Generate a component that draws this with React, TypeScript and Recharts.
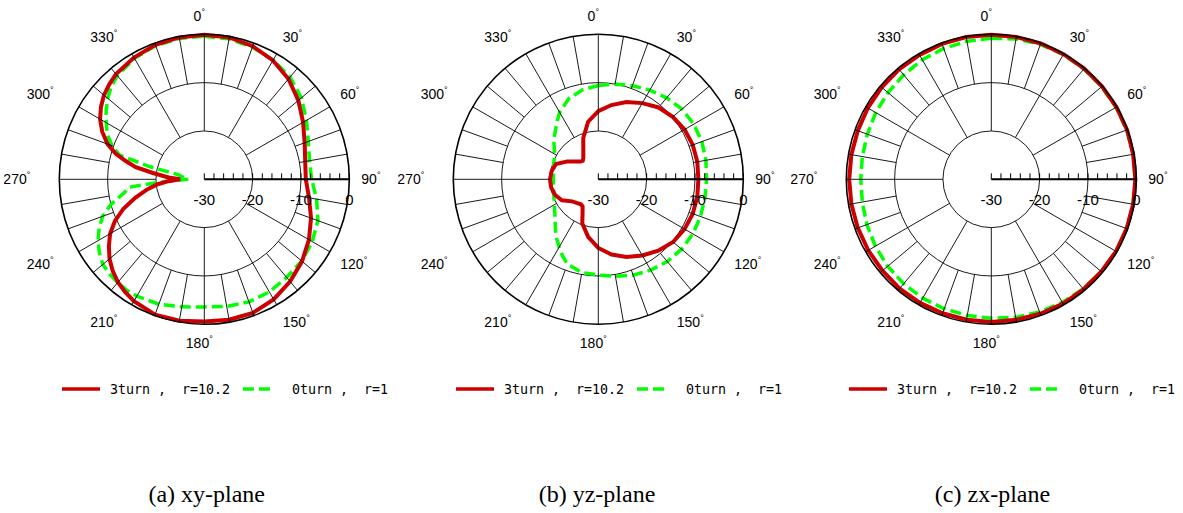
import React from 'react';
import { RadarChart, Radar, PolarGrid, PolarAngleAxis, PolarRadiusAxis, Legend } from 'recharts';

// ---------- axis definitions ----------
const R_MIN = -30;
const R_MAX = 0;
const RADIUS_TICKS = [-30, -28, -26, -24, -22, -20, -18, -16, -14, -12, -10, -8, -6, -4, -2, 0];
const RADIUS_LABELS = [-30, -20, -10, 0];
const GRID_RINGS = [-20, -10];
const ANGLE_TICKS = [0, 10, 20, 30, 40, 50, 60, 70, 80, 90, 100, 110, 120, 130, 140, 150, 160, 170, 180, 190, 200, 210, 220, 230, 240, 250, 260, 270, 280, 290, 300, 310, 320, 330, 340, 350];
const ANGLE_LABEL_STEP = 30;

// ---------- series ----------
const SERIES_3TURN = '3turn ,  r=10.2';
const SERIES_0TURN = '0turn ,  r=1';
const CAPTIONS = ['(a) xy-plane', '(b) yz-plane', '(c) zx-plane'];

// (a) xy-plane
const A_ANGLES = [0, 10, 20, 30, 40, 50, 60, 70, 80, 90, 100, 110, 120, 130, 140, 150, 160, 170, 180, 190, 200,
  210, 215, 220, 225, 230, 235, 240, 245, 250, 255, 260, 264, 267, 270, 273, 277, 280, 283, 286, 290, 295, 300, 305, 310, 315, 320,
  330, 340, 350];
const A_3TURN = [-0.1, -0.2, -0.7, -1.6, -2.9, -4.6, -6.4, -7.9, -8.8, -9.0, -8.0, -6.5, -5.0, -3.6, -2.4, -1.3, -0.6, -0.5, -0.6, -0.3, -0.2,
  -0.9, -1.5, -2.2, -3.2, -4.4, -5.9, -7.5, -9.6, -12.2, -15.2, -18.0, -20.3, -22.6, -25.0, -22.6, -19.3, -15.6, -13.4, -11.0, -8.7, -6.7, -5.1, -3.9, -2.9, -2.2, -1.6,
  -0.9, -0.4, -0.2];
const A_0TURN = [-0.4, -0.5, -0.9, -1.5, -2.4, -3.8, -5.6, -7.1, -7.9, -7.8, -6.4, -5.0, -4.2, -3.7, -3.5, -3.1, -3.0, -3.3, -3.6, -3.2, -2.5,
  -2.1, -2.0, -2.1, -2.3, -2.6, -3.5, -4.6, -6.0, -7.6, -10.0, -13.0, -14.5, -21.8, -26.7, -26.0, -25.3, -24.5, -18.5, -11.7, -9.7, -7.8, -6.6, -5.2, -3.9, -2.8, -2.0,
  -1.1, -0.6, -0.4];

// (b) yz-plane
const B_ANGLES = [0, 10, 20, 30, 40, 50, 60, 70, 80, 90, 100, 110, 120, 130, 140, 150, 160, 170, 180, 190,
  200, 205, 210, 215, 220,
  230, 240, 250, 260, 270, 280, 290, 300,
  305, 310, 315, 320, 325, 330,
  340, 350];
const B_3TURN = [-15.9, -14.4, -13.0, -11.8, -10.6, -9.9, -9.4, -9.2, -9.2, -9.3, -9.2, -9.2, -9.4, -9.8, -10.7, -11.8, -12.9, -14.2, -15.8, -17.9,
  -20.3, -22.3, -23.5, -23.7, -23.5,
  -22.9, -21.3, -20.5, -20.1, -20.0, -20.2, -20.7, -22.6,
  -23.6, -24.3, -24.8, -25.0, -24.6, -23.8,
  -20.9, -17.9];
const B_0TURN = [-10.6, -10.0, -9.4, -8.7, -8.0, -7.4, -7.2, -7.2, -7.4, -7.6, -7.6, -7.5, -7.4, -7.5, -7.8, -8.3, -8.9, -9.6, -10.2, -10.4,
  -11.3, -12.5, -13.8, -15.0, -16.2,
  -18.3, -19.5, -20.2, -20.6, -20.7, -20.6, -20.2, -19.6,
  -18.9, -18.0, -17.2, -16.3, -15.2, -14.0,
  -12.2, -11.2];

// (c) zx-plane
const C_ANGLES = [0, 10, 20, 30, 40, 50, 60, 70, 80, 90, 100, 110, 120, 130, 140, 150, 160, 170, 180, 190, 200, 210, 220, 230, 240, 250, 260, 270, 280, 290, 300, 310, 320, 330, 340, 350];
const C_3TURN = [-0.1, -0.1, -0.1, -0.1, -0.1, -0.1, -0.1, -0.1, -0.2, -0.2, -0.2, -0.2, -0.2, -0.3, -0.3, -0.3, -0.4, -0.5, -0.5, -0.5, -0.5, -0.5, -0.5, -0.6, -0.6, -0.6, -0.6, -0.6, -0.6, -0.6, -0.5, -0.4, -0.3, -0.3, -0.2, -0.1];
const C_0TURN = [-0.8, -0.5, -0.3, -0.2, -0.2, -0.2, -0.2, -0.2, -0.2, -0.2, -0.2, -0.2, -0.2, -0.3, -0.4, -0.6, -0.8, -1.0, -1.25, -1.4, -1.5, -1.6, -1.8, -2.0, -2.3, -2.6, -2.9, -3.0, -2.9, -2.7, -2.4, -2.1, -1.8, -1.45, -1.2, -1.0];

// ---------- styling ----------
const RED = '#cc0000';
const GREEN = '#00ff00';
const GREEN_DASH = '11 5';
const SANS = '"Liberation Sans", Arial, sans-serif';
const MONO = '"DejaVu Sans Mono", monospace';
const SERIF = '"Liberation Serif", "Times New Roman", serif';

const PANEL_W = 394;
const PANEL_H = 420;
const PANEL_LEFT = [4, 398, 791];
const CX = 200.3;
const CY = 179.3;
const OUTER_R = 145;
const ANGLE_TICK_SIZE = 8;

const buildRows = (angles: number[], s3: number[], s0: number[]) =>
  angles.map((a, i) => ({ angle: a, t3: s3[i], t0: s0[i] }));

const PANELS = [
  buildRows(A_ANGLES, A_3TURN, A_0TURN),
  buildRows(B_ANGLES, B_3TURN, B_0TURN),
  buildRows(C_ANGLES, C_3TURN, C_0TURN),
];

const frac = (v: number) => (v - R_MIN) / (R_MAX - R_MIN);

const AngleTick = (props: any) => {
  const { x, y, payload } = props;
  const rad = (payload.coordinate * Math.PI) / 180;
  const ux = Math.cos(rad);
  const uy = -Math.sin(rad);
  const ccx = typeof props.cx === 'number' ? props.cx : x - ux * (OUTER_R + ANGLE_TICK_SIZE);
  const ccy = typeof props.cy === 'number' ? props.cy : y - uy * (OUTER_R + ANGLE_TICK_SIZE);
  const R = Math.hypot(x - ccx, y - ccy) - ANGLE_TICK_SIZE;
  const v = payload.value as number;
  const major = v % ANGLE_LABEL_STEP === 0;
  const rIn = R * frac(major ? GRID_RINGS[0] : GRID_RINGS[1]);
  const line = (
    <line
      x1={ccx + ux * rIn}
      y1={ccy + uy * rIn}
      x2={ccx + ux * R}
      y2={ccy + uy * R}
      stroke="#000"
      strokeWidth={0.9}
    />
  );
  if (!major) return <g>{line}</g>;
  let anchor: 'start' | 'end' | 'middle' = 'middle';
  let tx = ccx - 5;
  if (ux > 0.01) {
    anchor = 'start';
    tx = ccx + ux * (R + 12);
  } else if (ux < -0.01) {
    anchor = 'end';
    tx = ccx + ux * (R + 29);
  }
  const sy = Math.abs(uy) < 0.01 ? 0 : Math.sign(uy);
  const ty = ccy + uy * (R + 12) + 6.5 * sy;
  return (
    <g>
      {line}
      <text x={tx} y={ty} dy="0.36em" textAnchor={anchor} fontFamily={SANS} fontSize={14} fill="#000">
        {String(v)}
        <tspan fontSize={9} dy={-6}>°</tspan>
      </text>
    </g>
  );
};

const RadiusTick = (props: any) => {
  const { x, y, payload } = props;
  const v = payload.value as number;
  const showLabel = RADIUS_LABELS.includes(v);
  return (
    <g>
      <line x1={x} y1={y} x2={x} y2={y - 6} stroke="#000" strokeWidth={1} />
      {showLabel && (
        <text x={x} y={y + 20} dy="0.36em" textAnchor="middle" fontFamily={SANS} fontSize={15} fill="#000">
          {String(v)}
        </text>
      )}
    </g>
  );
};

const LEGEND_ORDER = [SERIES_3TURN, SERIES_0TURN];
const LEGEND_X = [0, 181];

const renderLegend = (props: any) => {
  const items = [...(props.payload || [])].sort(
    (a: any, b: any) => LEGEND_ORDER.indexOf(a.value) - LEGEND_ORDER.indexOf(b.value)
  );
  return (
    <svg width={340} height={20} style={{ display: 'block', overflow: 'visible' }}>
      {items.map((it: any, i: number) => {
        const x0 = LEGEND_X[i] ?? i * 181;
        const dashed = it.value === SERIES_0TURN;
        const len = dashed ? 32 : 38;
        return (
          <g key={it.value}>
            <line
              x1={x0}
              y1={10}
              x2={x0 + len}
              y2={10}
              stroke={it.color}
              strokeWidth={3.5}
              strokeDasharray={dashed ? GREEN_DASH : undefined}
            />
            <text
              x={x0 + (dashed ? 49 : 48)}
              y={10}
              dy="0.36em"
              fontFamily={MONO}
              fontSize={13.3}
              fill="#000"
              style={{ whiteSpace: 'pre' }}
            >
              {it.value}
            </text>
          </g>
        );
      })}
    </svg>
  );
};

const ringRadii = GRID_RINGS.map((v) => OUTER_R * frac(v));

const PolarPanel = ({ data }: { data: any[] }) => (
  <RadarChart
    width={PANEL_W}
    height={PANEL_H}
    data={data}
    cx={CX}
    cy={CY}
    innerRadius={0}
    outerRadius={OUTER_R}
    startAngle={90}
    endAngle={-270}
    margin={{ top: 0, right: 0, bottom: 0, left: 0 }}
  >
    <PolarGrid gridType="circle" radialLines={false} polarRadius={ringRadii} stroke="#000" strokeWidth={0.9} />
    <PolarAngleAxis
      dataKey="angle"
      type="number"
      domain={[0, 360]}
      ticks={ANGLE_TICKS}
      tickLine={false}
      tickSize={ANGLE_TICK_SIZE}
      axisLineType="circle"
      axisLine={{ stroke: '#000', strokeWidth: 1.6 }}
      tick={(p: any) => <AngleTick {...p} />}
    />
    <PolarRadiusAxis
      angle={0}
      type="number"
      domain={[R_MIN, R_MAX]}
      ticks={RADIUS_TICKS}
      allowDataOverflow
      axisLine={{ stroke: '#000', strokeWidth: 2 }}
      tick={(p: any) => <RadiusTick {...p} />}
    />
    <Radar
      name={SERIES_0TURN}
      dataKey="t0"
      stroke={GREEN}
      strokeWidth={3.5}
      strokeDasharray={GREEN_DASH}
      fill="none"
      fillOpacity={0}
      dot={false}
      activeDot={false}
      legendType="line"
      isAnimationActive={false}
    />
    <Radar
      name={SERIES_3TURN}
      dataKey="t3"
      stroke={RED}
      strokeWidth={4}
      fill="none"
      fillOpacity={0}
      dot={false}
      activeDot={false}
      legendType="line"
      isAnimationActive={false}
    />
    <Legend
      content={renderLegend}
      wrapperStyle={{ position: 'absolute', left: CX - 142, top: 379, width: 340, height: 20 }}
    />
  </RadarChart>
);

export default function App() {
  return (
    <div style={{ position: 'absolute', left: 0, top: 0, width: 1183, height: 513, background: '#fff', overflow: 'hidden' }}>
      {PANELS.map((data, i) => (
        <div key={i} style={{ position: 'absolute', left: PANEL_LEFT[i], top: 0, width: PANEL_W, height: PANEL_H }}>
          <PolarPanel data={data} />
        </div>
      ))}
      <svg width={1183} height={513} style={{ position: 'absolute', left: 0, top: 0, pointerEvents: 'none' }}>
        {CAPTIONS.map((c, i) => (
          <text
            key={c}
            x={PANEL_LEFT[i] + CX + (i === 0 ? 2.4 : i === 1 ? -1.3 : 1.2)}
            y={502}
            textAnchor="middle"
            fontFamily={SERIF}
            fontSize={24}
            fill="#000"
          >
            {c}
          </text>
        ))}
      </svg>
    </div>
  );
}
